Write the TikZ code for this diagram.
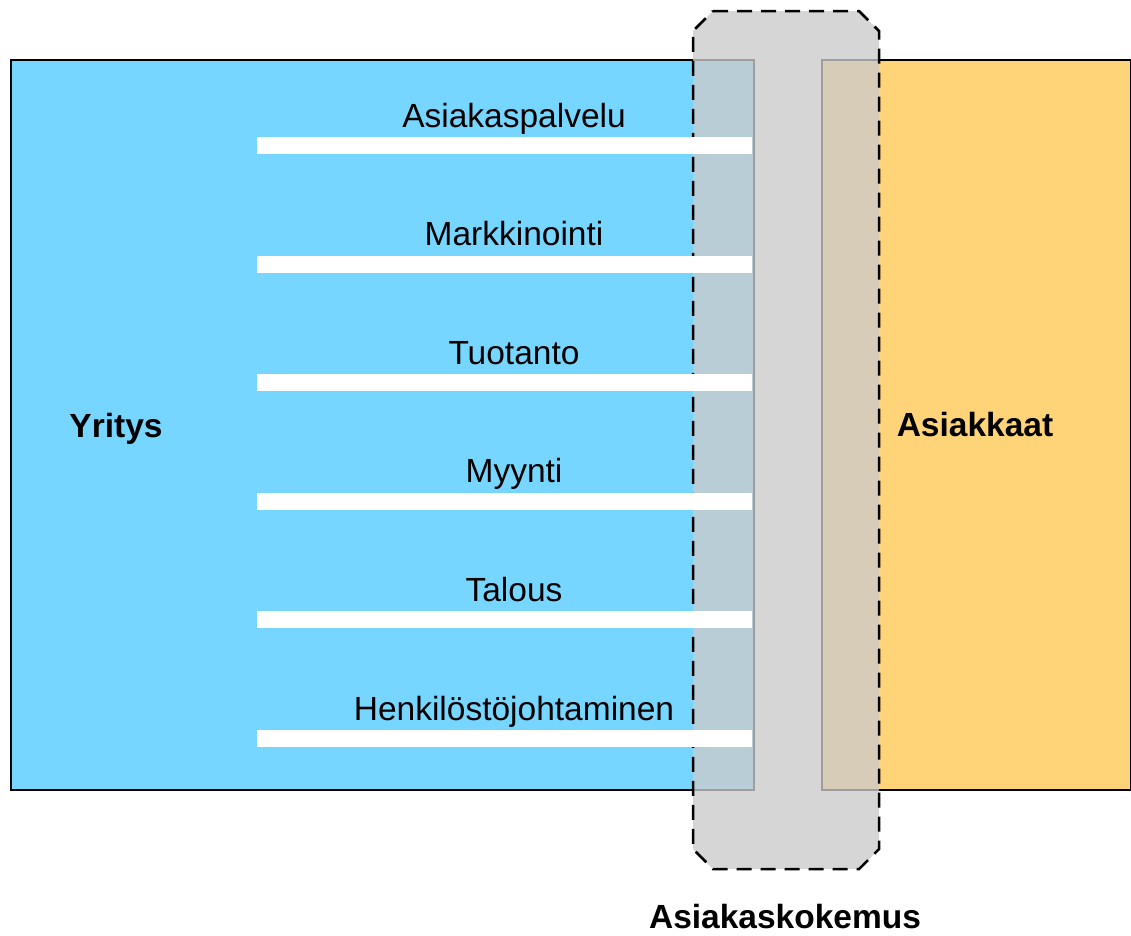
\documentclass[tikz,border=0pt]{standalone}
\usepackage{fontspec}
\setmainfont{Liberation Sans}
\definecolor{skyblue}{HTML}{76D6FF}
\definecolor{cantaloupe}{HTML}{FFD479}
\definecolor{overlaygrey}{HTML}{CBCBCB}
\tikzset{
  box/.style={draw=black, line width=2pt},
  bar/.style={fill=white, draw=none},
  lbl/.style={anchor=base, inner sep=0pt, font=\fontsize{33.5}{40}\selectfont},
  bold/.style={anchor=base, inner sep=0pt, font=\fontsize{33.5}{40}\selectfont\bfseries},
  overlay/.style={fill=overlaygrey, fill opacity=0.78, draw=none},
  dashborder/.style={draw=black, line width=2.5pt, dash pattern=on 15pt off 9pt},
}
\begin{document}
\begin{tikzpicture}[x=1pt,y=-1pt]
\useasboundingbox (0,0) rectangle (1131,935);
% main boxes
\node[box, fill=skyblue, minimum width=743pt, minimum height=730pt, inner sep=0pt, anchor=north west] (yritys box) at (10,59) {};
\node[box, fill=cantaloupe, minimum width=309pt, minimum height=730pt, inner sep=0pt, anchor=north west] (asiakkaat box) at (821,59) {};
% grey customer experience band
\fill[overlay] (713,11) -- (859,11) -- (879,31) -- (879,849) -- (859,869) -- (713,869) -- (693,849) -- (693,31) -- cycle;
\draw[dashborder] (713,11) -- (859,11) -- (879,31) -- (879,849) -- (859,869) -- (713,869) -- (693,849) -- (693,31) -- cycle;
% bars
\foreach \i/\y in {1/145.5, 2/264.1, 3/382.7, 4/501.3, 5/619.9, 6/738.5} {
  \fill[bar] (257,\y-8.5) rectangle (752,\y+8.5);
}
% labels
\node[lbl] (l1) at (514,127) {Asiakaspalvelu};
\node[lbl] (l2) at (514,245.6) {Markkinointi};
\node[lbl] (l3) at (514,364.2) {Tuotanto};
\node[lbl] (l4) at (514,482.8) {Myynti};
\node[lbl] (l5) at (514,601.4) {Talous};
\node[lbl] (l6) at (514,720) {Henkilöstöjohtaminen};
\node[bold] (yritys) at (116,437) {Yritys};
\node[bold] (asiakkaat) at (975,436) {Asiakkaat};
\node[bold] (kokemus) at (785,928) {Asiakaskokemus};
\end{tikzpicture}
\end{document}
